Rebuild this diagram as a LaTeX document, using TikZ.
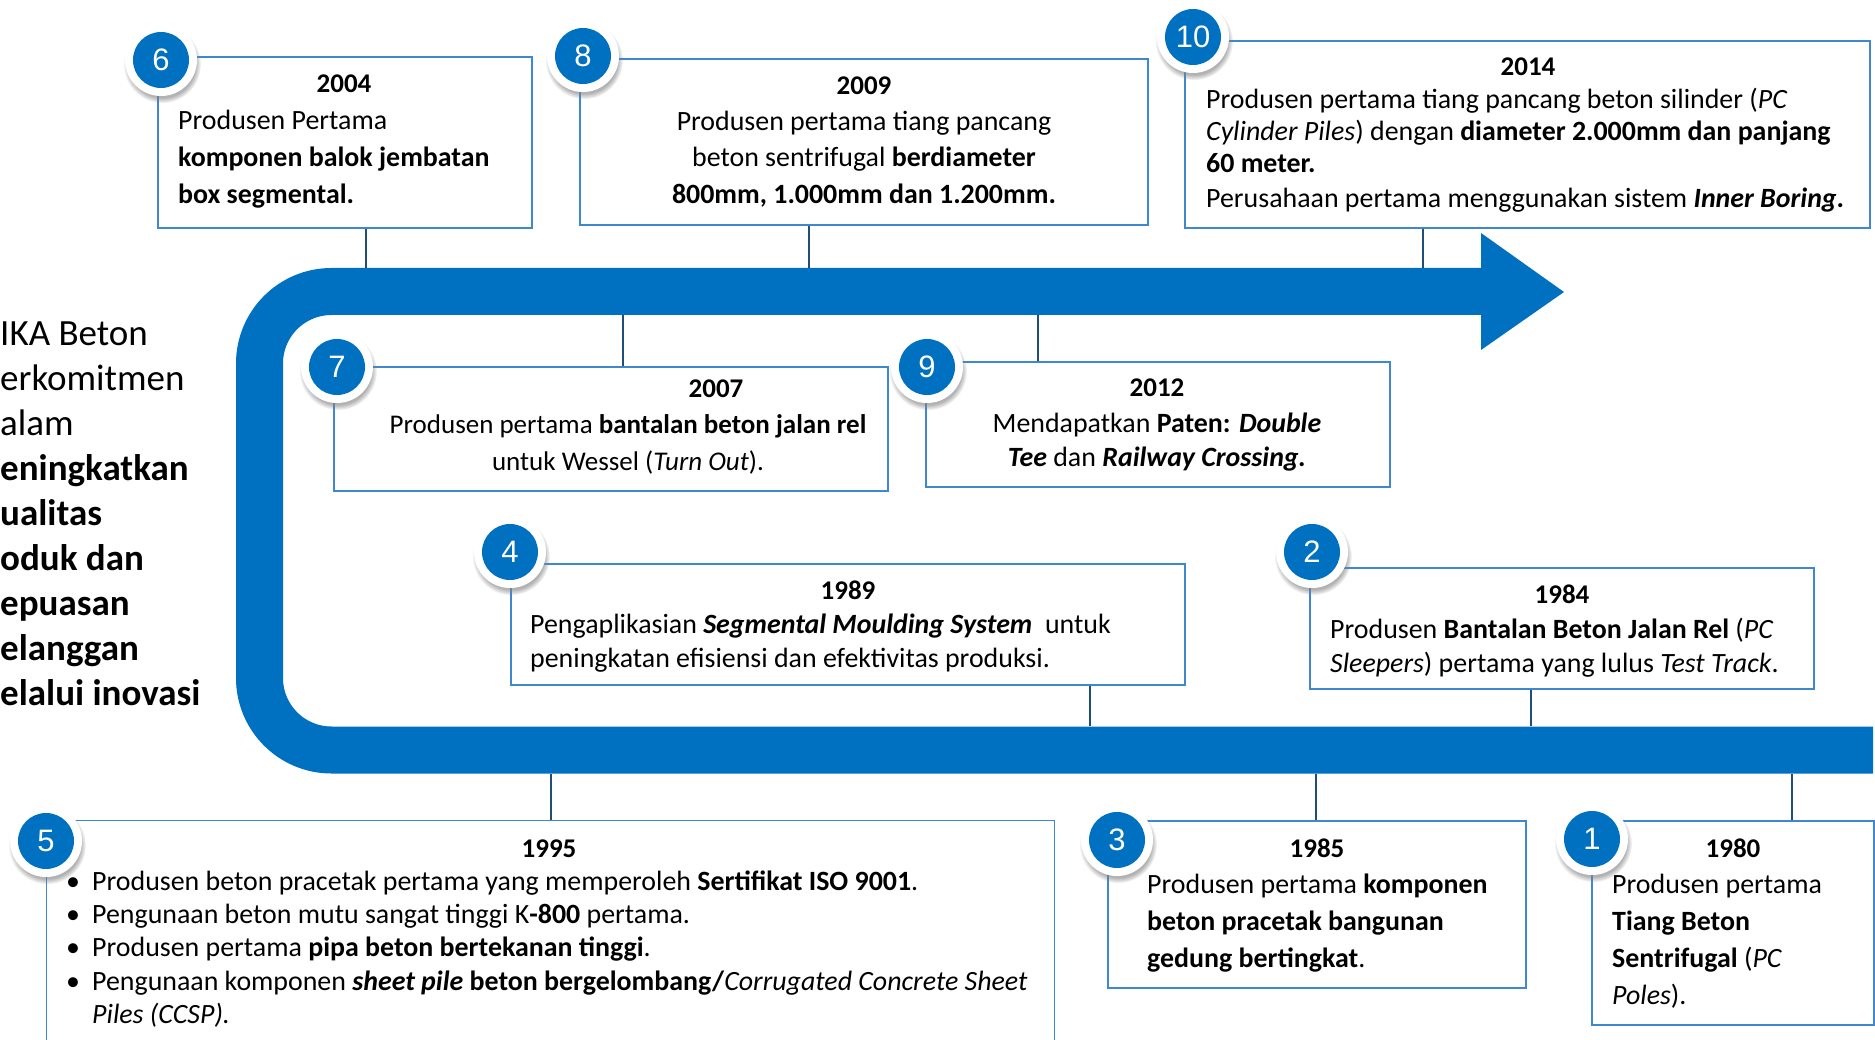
\documentclass[tikz,border=0pt]{standalone}
\usepackage{fontspec}
\setmainfont{Carlito}
\newfontfamily\numfont{Liberation Sans}
\usetikzlibrary{shadows}
\definecolor{bandblue}{HTML}{0070C0}
\definecolor{boxblue}{HTML}{3F88D0}
\definecolor{linkblue}{HTML}{1F4E79}
\begin{document}
\begin{tikzpicture}[x=1pt,y=-1pt,
box/.style={rectangle, draw=boxblue, line width=1.3pt, fill=white, inner sep=0pt},
ring/.style={circle, fill=white, minimum size=72pt, inner sep=0pt,
  circular drop shadow={shadow xshift=1pt, shadow yshift=-4pt, opacity=0.6, shadow scale=1.08}},
badge/.style={circle, fill=bandblue, minimum size=56pt, inner sep=0pt, text=white,
  font=\numfont\fontsize{31}{31}\selectfont},
link/.style={draw=linkblue, line width=1.3pt},
band/.style={draw=bandblue, line width=47pt, rounded corners=72pt},
yr/.style={inner sep=0pt, anchor=base, font=\fontsize{27}{27}\selectfont\bfseries},
ltxt/.style={inner sep=0pt, anchor=north west, align=left, font=\fontsize{27.9}{#1}\selectfont},
ctxt/.style={inner sep=0pt, anchor=north, align=center, font=\fontsize{27.9}{#1}\selectfont}
]
\useasboundingbox (0,0) rectangle (1875,1040);
% the U-shaped time line
\draw[band] (1873,750) -- (259.5,750) -- (259.5,291.5) -- (1481,291.5);
\fill[bandblue] (1481,233) -- (1564,292) -- (1481,350) -- cycle;
\coordinate (tbtop) at (0,268);
\coordinate (tbbot) at (0,315);
\coordinate (bbtop) at (0,726);
\coordinate (bbbot) at (0,774);
% motto on the left
\node[inner sep=0pt, anchor=north west, align=left, font=\fontsize{37}{45}\selectfont] (motto) at (0,313.5)
  {\strut IKA Beton\\erkomitmen\\alam\\\textbf{eningkatkan}\\\textbf{ualitas}\\\textbf{oduk dan}\\\textbf{epuasan}\\\textbf{elanggan}\\\textbf{elalui inovasi}};
% boxes
\node[box, minimum width=374pt, minimum height=171pt] (b6) at (345,142.5) {};
\node[box, minimum width=568pt, minimum height=166pt] (b8) at (864,142) {};
\node[box, minimum width=685pt, minimum height=187pt] (b10) at (1527.5,134.5) {};
\node[box, minimum width=554pt, minimum height=124pt] (b7) at (611,429) {};
\node[box, minimum width=464pt, minimum height=125pt] (b9) at (1158,424.5) {};
\node[box, minimum width=674pt, minimum height=121pt] (b4) at (848,624.5) {};
\node[box, minimum width=504pt, minimum height=121pt] (b2) at (1562,628.5) {};
\node[box, draw=none, minimum width=1007pt, minimum height=219pt] (b5) at (550.5,930.5) {};
\draw[boxblue, line width=1.3pt] (b5.south west) |- (b5.north east) -- (b5.south east);
\node[box, minimum width=418pt, minimum height=167pt] (b3) at (1317,904.5) {};
\node[box, minimum width=282pt, minimum height=204pt] (b1) at (1733,923) {};
% connectors
\foreach \b/\s/\e in {b6/21/tbtop, b8/-55/tbtop, b10/-104.5/tbtop, b4/242/bbtop, b2/-31/bbtop}
  \draw[link] ([xshift=\s pt]\b.south) -- ([xshift=\s pt]\b.south |- \e);
\foreach \b/\s/\e in {b7/12/tbbot, b9/-120/tbbot, b5/0.5/bbbot, b3/-1/bbbot, b1/59/bbbot}
  \draw[link] ([xshift=\s pt]\b.north) -- ([xshift=\s pt]\b.north |- \e);
% texts
\node[yr] (y6) at (344,93) {2004};
\node[ltxt=37] (t6) at (178,103.1) {\strut Produsen Pertama\\\textbf{komponen balok jembatan}\\\textbf{box segmental.}};
\node[yr] (y8) at (864,95) {2009};
\node[ctxt=36.5] (t8) at (864,104.5) {\strut Produsen pertama tiang pancang\\beton sentrifugal \textbf{berdiameter}\\\textbf{800mm, 1.000mm dan 1.200mm.}};
\node[yr] (y10) at (1528,76) {2014};
\node[ltxt=32] (t10) at (1206,85.6) {\strut Produsen pertama tiang pancang beton silinder (\textit{PC}\\\textit{Cylinder Piles}) dengan \textbf{diameter 2.000mm dan panjang}\\\textbf{60 meter.}\\[3pt]Perusahaan pertama menggunakan sistem \textbf{\textit{Inner Boring}.}};
\node[yr] (y7) at (716,398) {2007};
\node[ctxt=37, font=\fontsize{27}{37}\selectfont] (t7) at (628,407.1) {\strut Produsen pertama \textbf{bantalan beton jalan rel}\\untuk Wessel (\textit{Turn Out}).};
\node[yr] (y9) at (1157,397) {2012};
\node[ctxt=34] (t9) at (1157,408.2) {\strut Mendapatkan \textbf{Paten: \textit{Double}}\\\textbf{\textit{Tee}} dan \textbf{\textit{Railway Crossing.}}};
\node[yr] (y4) at (848,599) {1989};
\node[ltxt=34] (t4) at (530,609.2) {\strut Pengaplikasian \textbf{\textit{Segmental Moulding System}}\ \ untuk\\peningkatan efisiensi dan efektivitas produksi.};
\node[yr] (y2) at (1562,603) {1984};
\node[ltxt=34] (t2) at (1330,614.2) {\strut Produsen \textbf{Bantalan Beton Jalan Rel} (\textit{PC}\\\textit{Sleepers}) pertama yang lulus \textit{Test Track}.};
\node[yr] (y5) at (549,857) {1995};
\node[ltxt=33.3] (t5) at (66,866.7) {\strut\makebox[26pt][l]{\textbullet}Produsen beton pracetak pertama yang memperoleh \textbf{Sertifikat ISO 9001}.\\
  \makebox[26pt][l]{\textbullet}Pengunaan beton mutu sangat tinggi K\textbf{-800} pertama.\\
  \makebox[26pt][l]{\textbullet}Produsen pertama \textbf{pipa beton bertekanan tinggi}.\\
  \makebox[26pt][l]{\textbullet}Pengunaan komponen \textbf{\textit{sheet pile}} \textbf{beton bergelombang/}\textit{Corrugated Concrete Sheet}\\
  \hspace*{26pt}\textit{Piles (CCSP).}};
\node[yr] (y3) at (1317,857) {1985};
\node[ltxt=37] (t3) at (1147,867.1) {\strut Produsen pertama \textbf{komponen}\\\textbf{beton pracetak bangunan}\\\textbf{gedung bertingkat}.};
\node[yr] (y1) at (1733,857) {1980};
\node[ltxt=37] (t1) at (1612,867.1) {\strut Produsen pertama\\\textbf{Tiang Beton}\\\textbf{Sentrifugal} (\textit{PC}\\\textit{Poles}).};
% numbered badges
\foreach \n/\x/\y in {6/161/60, 8/583/56, 10/1193/37, 7/337/367, 9/927/367, 4/510/552, 2/1312/552, 5/46/841, 3/1117/840, 1/1592/839} {
  \node[ring] (r\n) at (\x,\y) {};
  \node[badge] (n\n) at (r\n) {\n};
}
\end{tikzpicture}
\end{document}
